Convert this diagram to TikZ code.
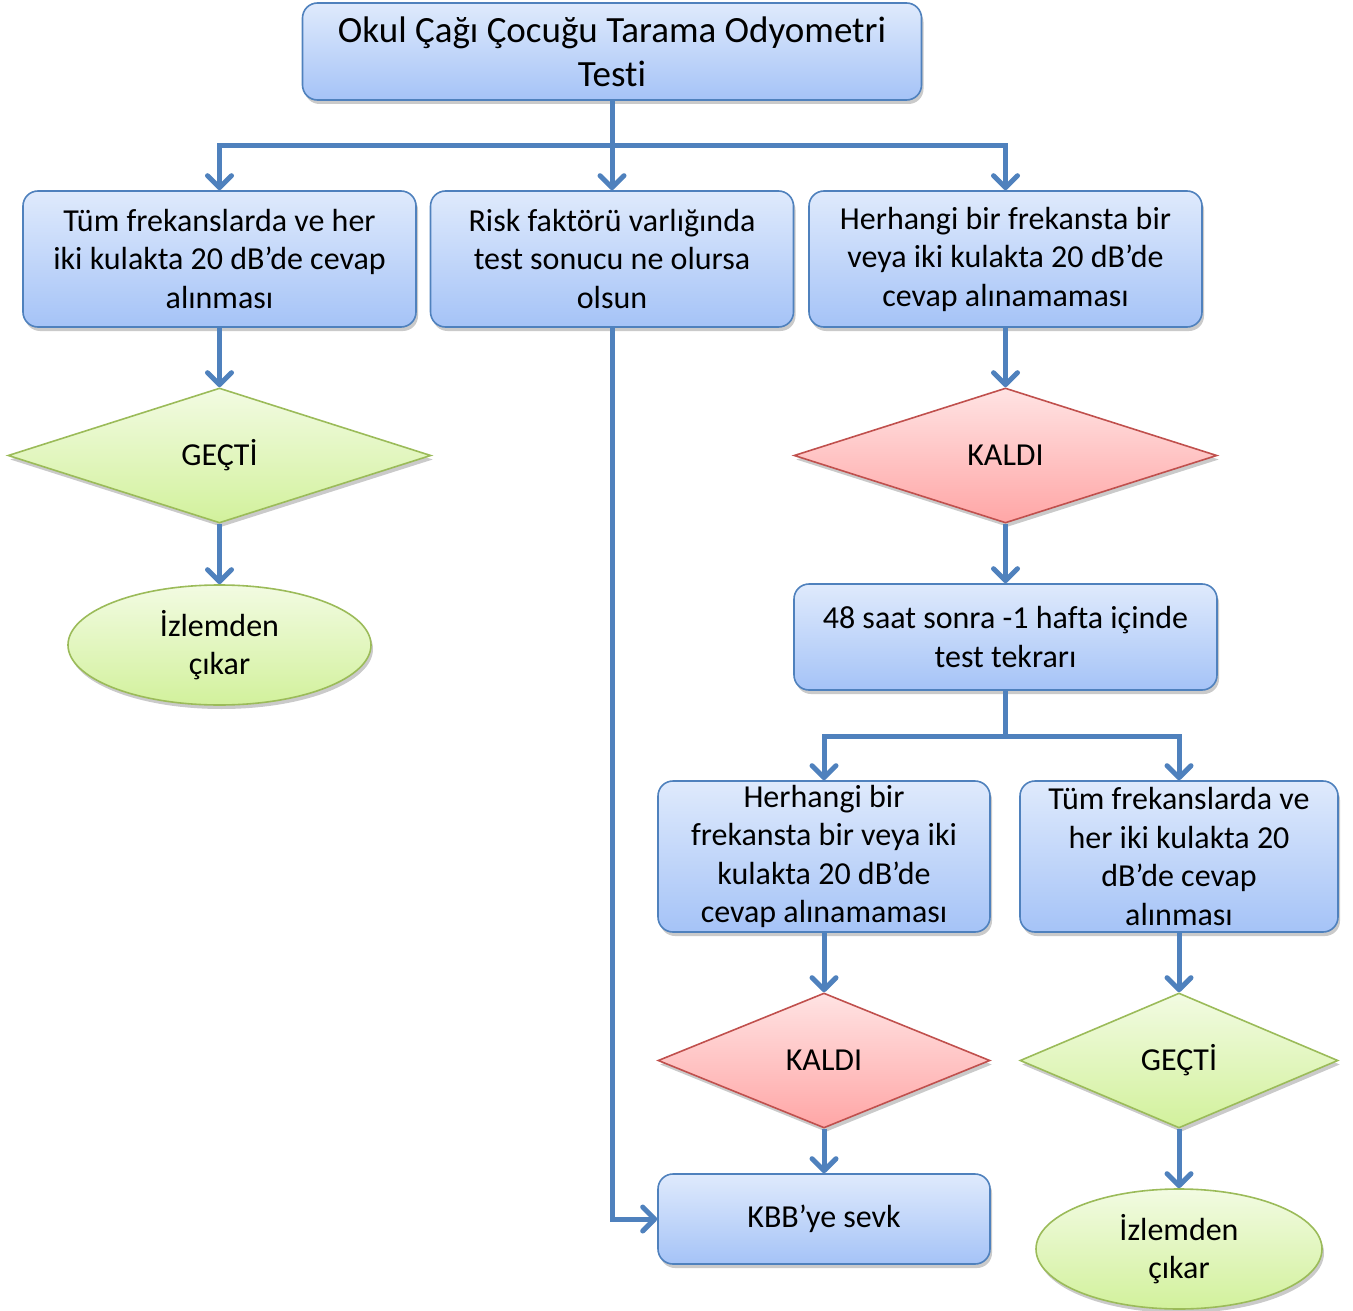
\documentclass[tikz,border=0pt]{standalone}
\usepackage{fontspec}
\setmainfont{Carlito}[Ligatures=NoCommon]
\usetikzlibrary{shapes.geometric,arrows.meta,shadows}
\definecolor{lineblue}{HTML}{4F81BD}
\definecolor{boxtop}{HTML}{DFEAFC}
\definecolor{boxbot}{HTML}{A5C3F7}
\definecolor{gtop}{HTML}{F2FBE2}
\definecolor{gbot}{HTML}{D2F19C}
\definecolor{gborder}{HTML}{9BBB59}
\definecolor{rtop}{HTML}{FFE3E3}
\definecolor{rbot}{HTML}{FFA6A6}
\definecolor{rborder}{HTML}{C0504D}
\tikzset{
  shad/.style={drop shadow={opacity=0.35,shadow xshift=2pt,shadow yshift=-4pt,fill=black!60}},
  txt/.style={font=\fontsize{32}{38.5}\selectfont},
  boxstyle/.style={shad,draw=lineblue,line width=1.6pt,rounded corners=15pt,top color=boxtop,bottom color=boxbot,
    align=center,inner sep=0pt,txt},
  okstyle/.style={shad,diamond,draw=gborder,line width=1.6pt,top color=gtop,bottom color=gbot,inner sep=0pt,txt},
  failstyle/.style={shad,diamond,draw=rborder,line width=1.6pt,top color=rtop,bottom color=rbot,inner sep=0pt,txt},
  endstyle/.style={shad,ellipse,draw=gborder,line width=1.6pt,top color=gtop,bottom color=gbot,inner sep=0pt,
    align=center,txt},
  conn/.style={draw=lineblue,line width=5pt},
  arr/.style={conn,-{Straight Barb[length=12pt,width=24pt,round]}},
}
\begin{document}
\begin{tikzpicture}[x=1pt,y=-1pt]
\useasboundingbox (0,0) rectangle (1353,1311);
\node[boxstyle,minimum width=619pt,minimum height=97pt,font=\fontsize{37}{44}\selectfont] (title) at (612,51.5)
  {Okul Çağı Çocuğu Tarama Odyometri\\Testi};
\node[boxstyle,minimum width=393pt,minimum height=136pt] (a) at (219.5,259)
  {Tüm frekanslarda ve her\\iki kulakta 20 dB’de cevap\\alınması};
\node[boxstyle,minimum width=363pt,minimum height=136pt] (b) at (612,259)
  {Risk faktörü varlığında\\test sonucu ne olursa\\olsun};
\node[boxstyle,minimum width=393pt,minimum height=136pt] (c) at (1005.5,259)
  {Herhangi bir frekansta bir\\veya iki kulakta 20 dB’de\\cevap alınamaması};
\node[okstyle,minimum width=423pt,minimum height=135pt,aspect=3.13] (pass1) at (219.5,455.5) {GEÇTİ};
\node[endstyle,minimum width=303pt,minimum height=120pt] (end1) at (219.5,645) {İzlemden\\çıkar};
\node[failstyle,minimum width=423pt,minimum height=135pt,aspect=3.13] (fail1) at (1005.5,455.5) {KALDI};
\node[boxstyle,minimum width=423pt,minimum height=106pt] (d) at (1005.5,637)
  {48 saat sonra -1 hafta içinde\\test tekrarı};
\node[boxstyle,minimum width=332pt,minimum height=151pt] (e) at (824,856.5)
  {Herhangi bir\\frekansta bir veya iki\\kulakta 20 dB’de\\cevap alınamaması};
\node[boxstyle,minimum width=318pt,minimum height=151pt] (f) at (1179,856.5)
  {Tüm frekanslarda ve\\her iki kulakta 20\\dB’de cevap\\alınması};
\node[failstyle,minimum width=332pt,minimum height=135pt,aspect=2.46] (fail2) at (824,1060.5) {KALDI};
\node[okstyle,minimum width=318pt,minimum height=135pt,aspect=2.36] (pass2) at (1179,1060.5) {GEÇTİ};
\node[boxstyle,minimum width=332pt,minimum height=90pt] (kbb) at (824,1219) {KBB’ye sevk};
\node[endstyle,minimum width=286pt,minimum height=120pt] (end2) at (1179,1249) {İzlemden\\çıkar};
% connectors
\coordinate (bus) at (612,146);
\coordinate (bus2) at (1005.5,736);
\draw[conn] (title.south) -- (bus);
\draw[arr] (bus) -| (a.north);
\draw[arr] (bus) -- (b.north);
\draw[arr] (bus) -| (c.north);
\draw[arr] (a.south) -- (pass1.north);
\draw[arr] (pass1.south) -- (end1.north);
\draw[arr] (c.south) -- (fail1.north);
\draw[arr] (fail1.south) -- (d.north);
\draw[conn] (d.south) -- (bus2);
\draw[arr] (bus2) -| (e.north);
\draw[arr] (bus2) -| (f.north);
\draw[arr] (e.south) -- (fail2.north);
\draw[arr] (f.south) -- (pass2.north);
\draw[arr] (fail2.south) -- (kbb.north);
\draw[arr] (pass2.south) -- (end2.north);
\draw[arr] (b.south) |- (kbb.west);
\end{tikzpicture}
\end{document}
